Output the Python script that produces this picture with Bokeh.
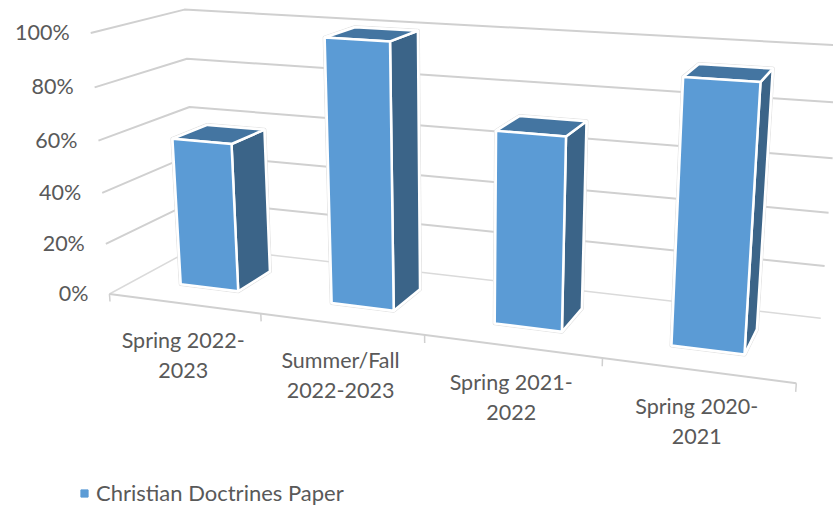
import numpy as np
from bokeh.plotting import figure
from bokeh.models import Range1d, Legend, LegendItem
from bokeh.core.properties import value
from bokeh.embed import file_html
from bokeh.resources import INLINE

categories = ["Spring 2022-\n2023", "Summer/Fall\n2022-2023", "Spring 2021-\n2022", "Spring 2020-\n2021"]
series_name = "Christian Doctrines Paper"
series_values = [0.58, 1.00, 0.71, 0.94]
value_ticks = [0.0, 0.2, 0.4, 0.6, 0.8, 1.0]
value_labels = ["0%", "20%", "40%", "60%", "80%", "100%"]

C_FRONT, C_SIDE, C_TOP = "#5B9BD5", "#3B6488", "#4475A1"
C_TEXT, C_GRID = "#595959", "#D0D0D0"
FONT = "Lato"

# Camera calibration of the 3D box: (category pos, depth, value) -> page pixel
anchors = [
    (0, 0, 0, 108.5, 294), (0, 0, .2, 105, 243), (0, 0, .4, 101, 192), (0, 0, .6, 98, 140),
    (0, 0, .8, 95, 87), (0, 0, 1, 91, 33),
    (0, 1, 0, 198, 246), (0, 1, .6, 189, 106), (0, 1, .8, 186, 58), (0, 1, 1, 183, 9),
    (4, 1, 0, 820, 318), (4, 1, .2, 824, 266), (4, 1, .4, 828, 212), (4, 1, .6, 832, 158),
    (4, 1, .8, 836, 102), (4, 1, 1, 841, 45),
    (1, 0, 0, 260, 314), (3, 0, 0, 601, 358), (4, 0, 0, 797, 381),
]
A, b = [], []
for X, Y, Z, u, v in anchors:
    A.append([X, Y, Z, 1, 0, 0, 0, 0, -u * X, -u * Y, -u * Z]); b.append(u)
    A.append([0, 0, 0, 0, X, Y, Z, 1, -v * X, -v * Y, -v * Z]); b.append(v)
sol = np.linalg.lstsq(np.array(A, float), np.array(b, float), rcond=None)[0]
P = np.append(sol, 1.0).reshape(3, 4)


def proj(X, Y, Z):
    q = P @ np.array([X, Y, Z, 1.0])
    return float(q[0] / q[2]), float(q[1] / q[2])


def poly(pts):
    xy = [proj(*p) for p in pts]
    return [a for a, _ in xy], [c for _, c in xy]


p = figure(width=833, height=507, output_backend="svg", toolbar_location=None,
           x_range=Range1d(0, 833), y_range=Range1d(507, 0), min_border=0,
           background_fill_color="white", border_fill_color="white", outline_line_color=None)
p.axis.visible = False
p.grid.visible = False

n = len(categories)
# gridlines on the walls
gx, gy = [], []
for z in value_ticks:
    x_, y_ = poly([(0, 0, z), (0, 1, z), (n, 1, z)])
    gx.append(x_); gy.append(y_)
p.multi_line(gx[1:], gy[1:], line_color=C_GRID, line_width=2)
p.multi_line([gx[0]], [gy[0]], line_color="#DADADA", line_width=1.5)

# front floor edge + ticks
x_, y_ = poly([(0, 0, 0), (n, 0, 0)])
p.line(x_, y_, line_color=C_GRID, line_width=2)
tx, ty = [], []
for i in range(n + 1):
    x_, y_ = poly([(i, 0, 0), (i, 0, -0.03)])
    tx.append(x_); ty.append(y_)
p.multi_line(tx, ty, line_color=C_GRID, line_width=1.5)

# bars
GAP_L, GAP_R, D0, D1 = 0.3, 0.31, 0.3, 0.7
fx, fy, sx, sy, ux, uy, ox, oy = [], [], [], [], [], [], [], []
for i, val in enumerate(series_values):
    a, c = i + GAP_L, i + 1 - GAP_R
    x_, y_ = poly([(a, D0, 0), (c, D0, 0), (c, D0, val), (a, D0, val)]); fx.append(x_); fy.append(y_)
    x_, y_ = poly([(c, D0, 0), (c, D1, 0), (c, D1, val), (c, D0, val)]); sx.append(x_); sy.append(y_)
    x_, y_ = poly([(a, D0, val), (c, D0, val), (c, D1, val), (a, D1, val)]); ux.append(x_); uy.append(y_)
    x_, y_ = poly([(a, D0, 0), (c, D0, 0), (c, D1, 0), (c, D1, val), (a, D1, val), (a, D0, val)])
    ox.append(x_); oy.append(y_)
p.patches(ox, oy, fill_color="white", line_color="#E2E2E2", line_width=4, line_join="round")
p.patches(ox, oy, fill_color="white", line_color="white", line_width=2.5, line_join="round")
p.patches(sx, sy, fill_color=C_SIDE, line_color="white", line_width=2.5)
p.patches(ux, uy, fill_color=C_TOP, line_color="white", line_width=2.5)
p.patches(fx, fy, fill_color=C_FRONT, line_color="white", line_width=2.5)

# value labels
vl = [proj(0, 0, z) for z in value_ticks]
p.text([a - 21 for a, _ in vl], [c - 1 for _, c in vl], text=value_labels, text_align="right",
       text_baseline="middle", text_font=value(FONT), text_font_size="21.5px", text_color=C_TEXT)
# category labels
cl = [proj(i + 0.5, 0, 0) for i in range(n)]
p.text([a - 0.5 for a, _ in cl], [c + 51 for _, c in cl], text=categories, text_align="center",
       text_baseline="middle", text_font=value(FONT), text_font_size="21.5px", text_color=C_TEXT,
       text_line_height=1.15)

# legend (key drawn from a one-point marker outside the frame)
key = p.scatter([-50], [-50], marker="square", size=7, fill_color=C_FRONT, line_color=C_FRONT)
leg = Legend(items=[LegendItem(label=series_name, renderers=[key])], location=(75, 1),
             background_fill_alpha=0, border_line_color=None, glyph_width=18, glyph_height=18,
             label_text_font=FONT, label_text_font_size="22px", label_text_color=C_TEXT,
             padding=0, margin=0, label_standoff=3)
p.add_layout(leg, "center")

open("out.html", "w").write(file_html(p, INLINE))
